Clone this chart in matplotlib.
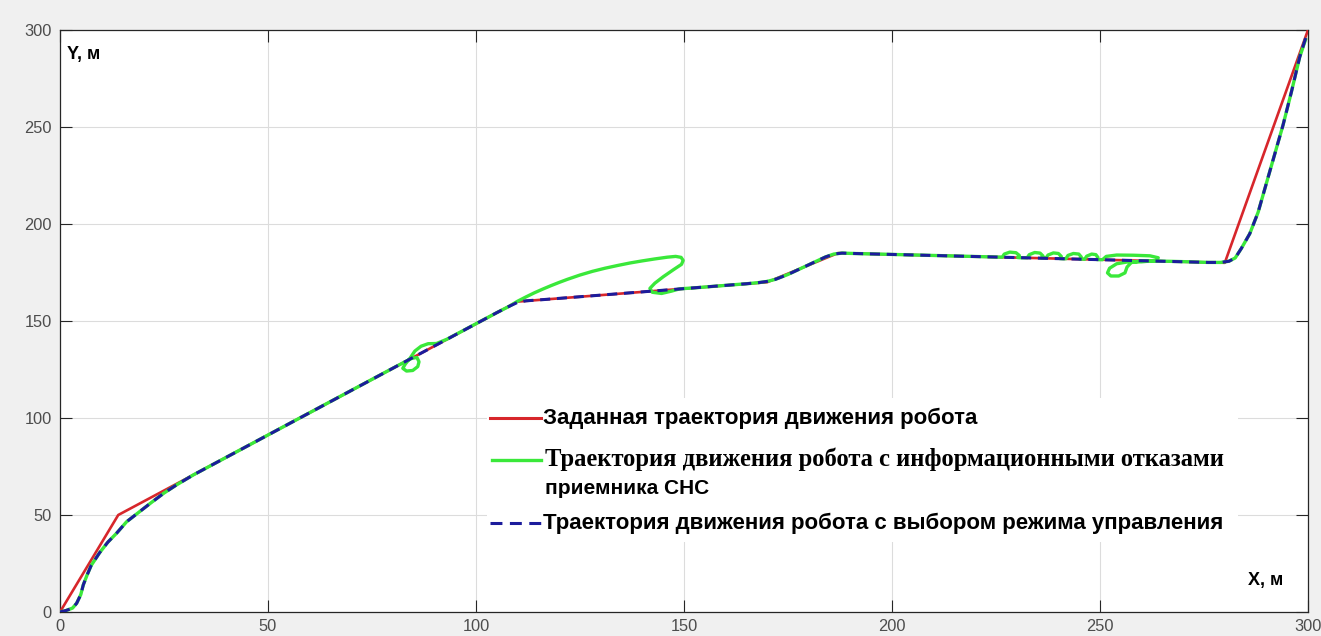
import matplotlib
matplotlib.use("Agg")
import matplotlib.pyplot as plt
from matplotlib.patches import Rectangle
from matplotlib.lines import Line2D

plt.rcParams["font.family"] = ["Liberation Sans", "DejaVu Sans"]

# ---- data ----
# target trajectory (red)
red_x = [0, 14, 110, 170, 187, 280, 300]
red_y = [0, 50, 160, 170, 185, 180, 300]

# trajectory with control-mode selection (blue dashed)
blue_x = [0, 1.5, 3, 4, 5, 5.6, 6.5, 7.5, 9.5, 11.5, 13.6, 16, 19, 22, 25, 28, 32,
          105, 108, 110, 112, 116,
          165, 168, 170, 172, 175, 178, 181, 184, 186, 188, 190,
          276, 279, 281, 282.5, 284, 286, 288, 290, 292, 294, 296, 298, 299.6]
blue_y = [0, 0.8, 2, 4.5, 9, 14, 19, 24, 30.5, 36, 40.6, 46.5, 51.5, 56.5, 61.3, 65.5, 70.6,
          154.3, 157.6, 159.6, 160.4, 161.0,
          169.2, 169.8, 170.4, 171.5, 174, 177, 180, 183, 184.5, 185, 184.85,
          180.2, 180.2, 180.8, 182.5, 187.5, 195, 206, 221, 236, 251, 268, 286, 297]

# trajectory with information failures of the GNSS receiver (green)
green_x = [0, 1.5, 3, 4, 5, 5.6, 6.5, 7.5, 9.5, 11.5, 13.6, 16, 19, 22, 25, 28, 32,
           81, 84.5, 85.8, 86.3, 86, 84.8, 83.3, 82.4, 83, 84.2, 85.3, 86.8, 88.5, 90.5, 93,
           105, 108, 110, 112, 114, 116, 118, 120, 122, 125, 128, 131, 134, 137, 140, 143,
           146, 148, 149.3, 149.8, 149.4,
           147.5, 145, 143, 141.8, 142.4, 144.6, 147, 149, 152,
           165, 168, 170, 172, 175, 178, 181, 184, 186, 188, 190,
           226.5, 227.0, 228.3, 229.8, 230.6, 230.2, 231.0,
           232.5, 233.0, 234.3, 235.6, 236.3, 235.9, 236.7,
           237.0, 237.5, 238.8, 240.0, 240.7, 240.3, 241.1,
           241.8, 242.3, 243.6, 244.9, 245.5, 245.1, 245.9,
           246.3, 246.8, 248.0, 249.0, 249.5, 249.2, 250.0,
           250.6, 251.5, 254, 258, 262, 264, 263.5, 260, 256.5, 254, 252.3, 251.8,
           252.6, 254.5, 256.0, 256.5, 257.5, 260, 264, 270,
           276, 279, 281, 282.5, 284, 286, 288, 290, 292, 294, 296, 298, 299.4]
green_y = [0, 0.8, 2, 4.5, 9, 14, 19, 24, 30.5, 36, 40.6, 46.5, 51.5, 56.5, 61.3, 65.5, 70.6,
           126.8, 130.7, 131.2, 129, 126.5, 124.5, 124.2, 125.6, 127.8, 131, 134.5, 137, 138.3, 138.4, 140.6,
           154.3, 157.6, 160.2, 162.4, 164.5, 166.4, 168.2, 169.9, 171.5, 173.7, 175.6, 177.2, 178.6,
           179.9, 181.0, 182.0, 182.9, 183.3, 182.8, 181.2, 179.2,
           176.5, 172.8, 169.5, 166.8, 164.8, 164.2, 165.4, 166.6, 167,
           169.2, 169.8, 170.4, 171.5, 174, 177, 180, 183, 184.5, 185, 184.85,
           182.9, 184.5, 185.5, 185.2, 183.8, 182.7, 182.6,
           182.6, 184.2, 185.3, 185.0, 183.5, 182.5, 182.4,
           182.4, 184.0, 185.1, 184.8, 183.3, 182.2, 182.1,
           182.1, 183.8, 184.8, 184.5, 183.0, 181.9, 181.9,
           181.8, 183.4, 184.5, 184.2, 182.8, 181.7, 181.6,
           181.6, 183.3, 184.0, 183.9, 183.6, 182.6, 181.2, 180.5, 180.4, 179.5, 177.2, 174.8,
           173.2, 173.2, 174.8, 177.8, 180.1, 181.0, 180.9, 180.6,
           180.2, 180.2, 180.8, 182.5, 187.5, 195, 206, 221, 236, 251, 268, 286, 295]

x_ticks = [0, 50, 100, 150, 200, 250, 300]
y_ticks = [0, 50, 100, 150, 200, 250, 300]

legend_labels = ["Заданная траектория движения робота",
                 "Траектория движения робота с информационными отказами",
                 "приемника СНС",
                 "Траектория движения робота с выбором режима управления"]

# ---- figure ----
W, H = 1321, 636
fig = plt.figure(figsize=(W / 100, H / 100), dpi=100, facecolor="#f0f0f0")
L, R, T, B = 60, 1308, 30, 612
ax = fig.add_axes([L / W, 1 - B / H, (R - L) / W, (B - T) / H])
ax.set_facecolor("white")

c_red = "#d7262b"
c_green = "#3ae83a"
c_blue = "#1c1c9c"

ax.plot(red_x, red_y, color=c_red, lw=1.9, zorder=3, solid_capstyle="butt")
ax.plot(green_x, green_y, color=c_green, lw=2.4, zorder=4, solid_joinstyle="round")
ax.plot(blue_x, blue_y, color=c_blue, lw=2.2, ls=(0, (3.3, 2.2)), zorder=5)

ax.set_xlim(0, 300)
ax.set_ylim(0, 300)
ax.set_xticks(x_ticks)
ax.set_yticks(y_ticks)
ax.grid(True, color="#dcdcdc", lw=0.8)
ax.set_axisbelow(True)
ax.tick_params(direction="in", length=8.6, width=0.8, top=True, right=True,
               colors="#262626", labelcolor="#4d4d4d", labelsize=11.8)
ax.tick_params(axis="x", pad=5)
ax.tick_params(axis="y", pad=6)
for s in ax.spines.values():
    s.set_color("#262626")
    s.set_linewidth(0.9)

sans = ["Liberation Sans", "DejaVu Sans"]
serif = ["Liberation Serif", "DejaVu Serif"]

def fx(px):
    return px / W

def fy(py):
    return 1 - py / H

fig.text(fx(67), fy(55), "Y, м", family=sans,
         fontweight="bold", fontsize=13, va="center", ha="left", zorder=10)
fig.text(fx(1248), fy(581), "X, м", family=sans,
         fontweight="bold", fontsize=13, va="center", ha="left", zorder=10)

# legend (drawn manually, white background)
fig.patches.append(Rectangle((fx(487), fy(542)), fx(1238) - fx(487), fy(398) - fy(542),
                             transform=fig.transFigure, facecolor="white",
                             edgecolor="none", zorder=6))
fig.lines.append(Line2D([fx(490), fx(541)], [fy(418), fy(418)], transform=fig.transFigure,
                        color=c_red, lw=2.2, zorder=7))
fig.lines.append(Line2D([fx(492), fx(541)], [fy(460), fy(460)], transform=fig.transFigure,
                        color=c_green, lw=2.4, zorder=7))
fig.lines.append(Line2D([fx(490), fx(541)], [fy(523), fy(523)], transform=fig.transFigure,
                        color=c_blue, lw=2.2, ls=(0, (3.9, 2.45)), zorder=7))

fig.text(fx(543), fy(418), legend_labels[0], family=sans, fontweight="bold",
         fontsize=16, va="center", ha="left", zorder=8)
fig.text(fx(545), fy(459), legend_labels[1], family=serif, fontweight="bold",
         fontsize=17.7, va="center", ha="left", zorder=8)
fig.text(fx(545), fy(488), legend_labels[2], family=sans, fontweight="bold",
         fontsize=15, va="center", ha="left", zorder=8)
fig.text(fx(543), fy(523), legend_labels[3], family=sans, fontweight="bold",
         fontsize=16, va="center", ha="left", zorder=8)

fig.savefig("out.png", dpi=100, facecolor=fig.get_facecolor())
